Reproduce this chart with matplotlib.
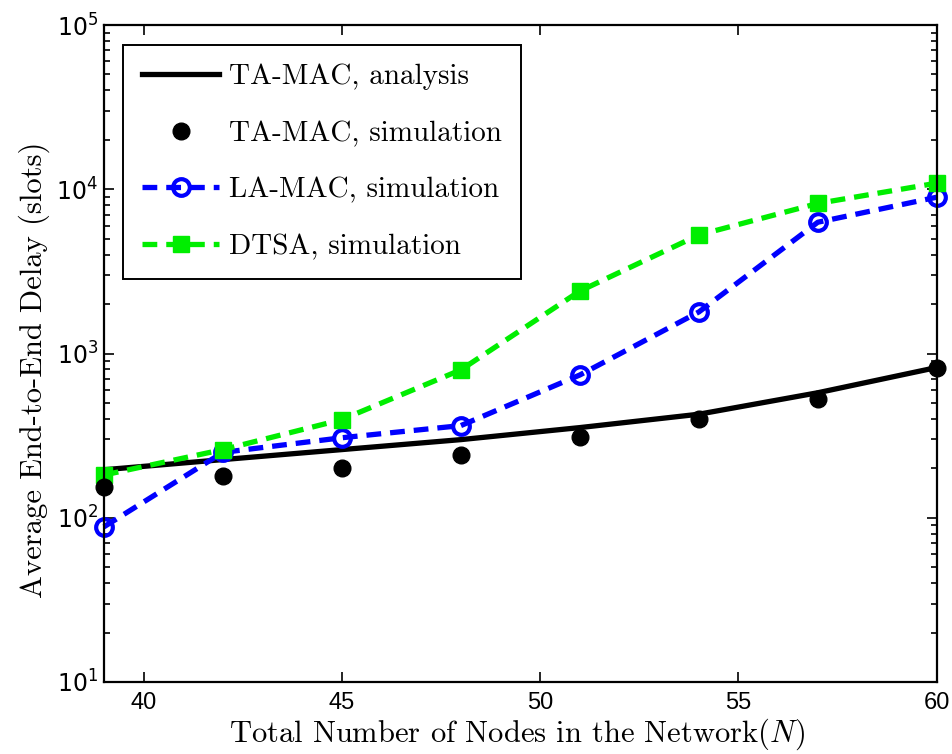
import numpy as np
import matplotlib
matplotlib.use('Agg')
import matplotlib.pyplot as plt
from matplotlib.ticker import LogLocator, FixedLocator

# Datos
nodos = [39, 42, 45, 48, 51, 54, 57, 60]
ta_mac_analisis = [196, 226, 260, 299, 354, 427, 577, 822]
ta_mac_simulacion = [153, 180, 201, 242, 312, 400, 532, 815]
la_mac_simulacion = [88, 250, 307, 364, 740, 1790, 6300, 8950]
dtsa_simulacion = [182, 260, 396, 795, 2400, 5270, 8200, 10900]

plt.rcParams['mathtext.fontset'] = 'custom'
plt.rcParams['mathtext.rm'] = 'Liberation Sans'
plt.rcParams['mathtext.it'] = 'cmmi10'
plt.rcParams['axes.unicode_minus'] = False

fig = plt.figure(figsize=(9.53, 7.54), dpi=100)
ax = fig.add_axes([0.109, 0.0955, 0.874, 0.8713])

lw = 3.8
patron = (2.8, 1.7)

ax.plot(nodos, ta_mac_analisis, '-', color='black', linewidth=lw,
        label='TA-MAC, analysis')
ax.plot(nodos, ta_mac_simulacion, 'o', color='black', markersize=12,
        label='TA-MAC, simulation', clip_on=False, zorder=4)
ax.plot(nodos, la_mac_simulacion, '--', color='blue', linewidth=lw,
        dashes=patron, marker='o', markersize=12, markerfacecolor='none',
        markeredgewidth=3, label='LA-MAC, simulation', clip_on=False)
ax.plot(nodos, dtsa_simulacion, '--', color='#00ee00', linewidth=lw,
        dashes=patron, marker='s', markersize=12,
        label='DTSA, simulation', clip_on=False)

ax.set_yscale('log')
ax.set_xlim(39, 60)
ax.set_ylim(10, 1e5)
ax.xaxis.set_major_locator(FixedLocator([40, 45, 50, 55, 60]))
ax.yaxis.set_major_locator(LogLocator(base=10, numticks=10))
ax.yaxis.set_minor_locator(LogLocator(base=10, subs=np.arange(2, 10), numticks=10))

ax.tick_params(which='both', direction='in', top=True, right=True,
               labelsize=17, width=1.2)
ax.tick_params(which='major', length=7)
ax.tick_params(which='minor', length=4)
ax.tick_params(axis='x', pad=7)
ax.tick_params(axis='y', pad=4)
for lab in ax.get_xticklabels():
    lab.set_fontfamily('Liberation Sans')
for sp in ax.spines.values():
    sp.set_linewidth(1.6)

ax.set_xlabel('Total Number of Nodes in the Network($N$)', fontfamily='cmr10',
              fontsize=22)
ax.set_ylabel('Average End-to-End Delay (slots)', fontfamily='cmr10',
              fontsize=22)
ax.xaxis.set_label_coords(0.496, -0.052)
ax.yaxis.set_label_coords(-0.065, 0.475)

leg = ax.legend(loc='upper left', bbox_to_anchor=(0.023, 0.970),
                borderaxespad=0, fancybox=False, edgecolor='black',
                framealpha=1, handlelength=2.65, labelspacing=1.04,
                prop={'family': 'cmr10', 'size': 21}, borderpad=0.65,
                handletextpad=0.35)
leg.get_frame().set_linewidth(1.4)

fig.savefig('out.png', dpi=100)
